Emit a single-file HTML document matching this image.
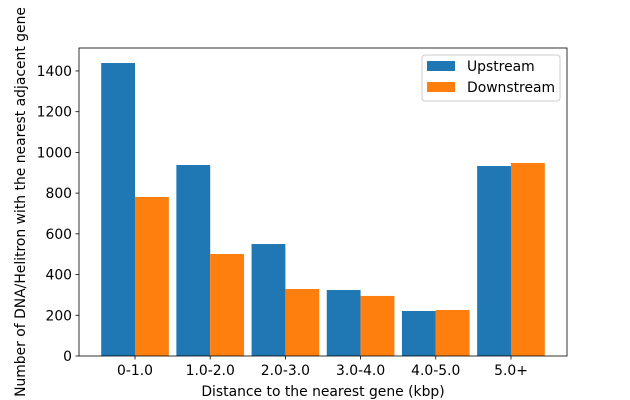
<!DOCTYPE html>
<html><head><meta charset="utf-8"><style>
body{margin:0;background:#fff;}
svg{display:block;font-family:"DejaVu Sans","Liberation Sans",sans-serif;}
</style></head><body>
<svg id="chart" width="630" height="400"></svg>
<script>
const categories=["0-1.0","1.0-2.0","2.0-3.0","3.0-4.0","4.0-5.0","5.0+"];
const upstream=[1439,938,550,324,221,933];
const downstream=[781,501,329,295,226,948];
const yTicks=[0,200,400,600,800,1000,1200,1400];
const NS="http://www.w3.org/2000/svg";
const svg=document.getElementById('chart');
const L=79,R=567,T=48,B=356,FS=13.9;
const xmin=-0.745,xmax=5.745,ymax=(B-T)/0.2036;
const xs=v=>L+(v-xmin)/(xmax-xmin)*(R-L);
const ys=v=>B-v/ymax*(B-T);
function el(tag,attrs,parent){const e=document.createElementNS(NS,tag);for(const k in attrs)e.setAttribute(k,attrs[k]);(parent||svg).appendChild(e);return e;}
const bw=0.45;
categories.forEach((c,i)=>{
  const u=el('rect',{x:xs(i-bw),y:ys(upstream[i]),width:xs(i)-xs(i-bw),height:B-ys(upstream[i]),fill:'#1f77b4'});
  
  
  const d=el('rect',{x:xs(i),y:ys(downstream[i]),width:xs(i+bw)-xs(i),height:B-ys(downstream[i]),fill:'#ff7f0e'});
  
  
  el('line',{x1:xs(i),x2:xs(i),y1:B,y2:B+3.5,stroke:'#000','stroke-width':0.8});
  const t=el('text',{x:xs(i),y:B+19,'text-anchor':'middle','font-size':FS,fill:'#000'});
  t.textContent=c;
  
  
});
yTicks.forEach(v=>{
  el('line',{x1:L-3.5,x2:L,y1:ys(v),y2:ys(v),stroke:'#000','stroke-width':0.8});
  const t=el('text',{x:L-7,y:ys(v)+5,'text-anchor':'end','font-size':FS,fill:'#000'});
  t.textContent=v;
  
  
});
const fr=el('rect',{x:L,y:T,width:R-L,height:B-T,fill:'none',stroke:'#000','stroke-width':0.8});


const xt=el('text',{x:(L+R)/2,y:396,'text-anchor':'middle','font-size':FS,fill:'#000'});
xt.textContent='Distance to the nearest gene (kbp)';


const yt=el('text',{x:0,y:0,transform:`translate(25,${(T+B)/2}) rotate(-90)`,'text-anchor':'middle','font-size':FS,fill:'#000'});
yt.textContent='Number of DNA/Helitron with the nearest adjacent gene';


const lg=el('g',{});


el('rect',{x:422,y:55,width:138,height:46,rx:3,fill:'#fff',stroke:'#ccc','stroke-width':1},lg);
[['Upstream','#1f77b4',61],['Downstream','#ff7f0e',82]].forEach(([n,c,y])=>{
  el('rect',{x:427,y:y,width:28,height:10,fill:c},lg);
  const t=el('text',{x:467,y:y+10,'font-size':FS,fill:'#000'},lg);
  t.textContent=n;
  
  
});
</script>
</body></html>
